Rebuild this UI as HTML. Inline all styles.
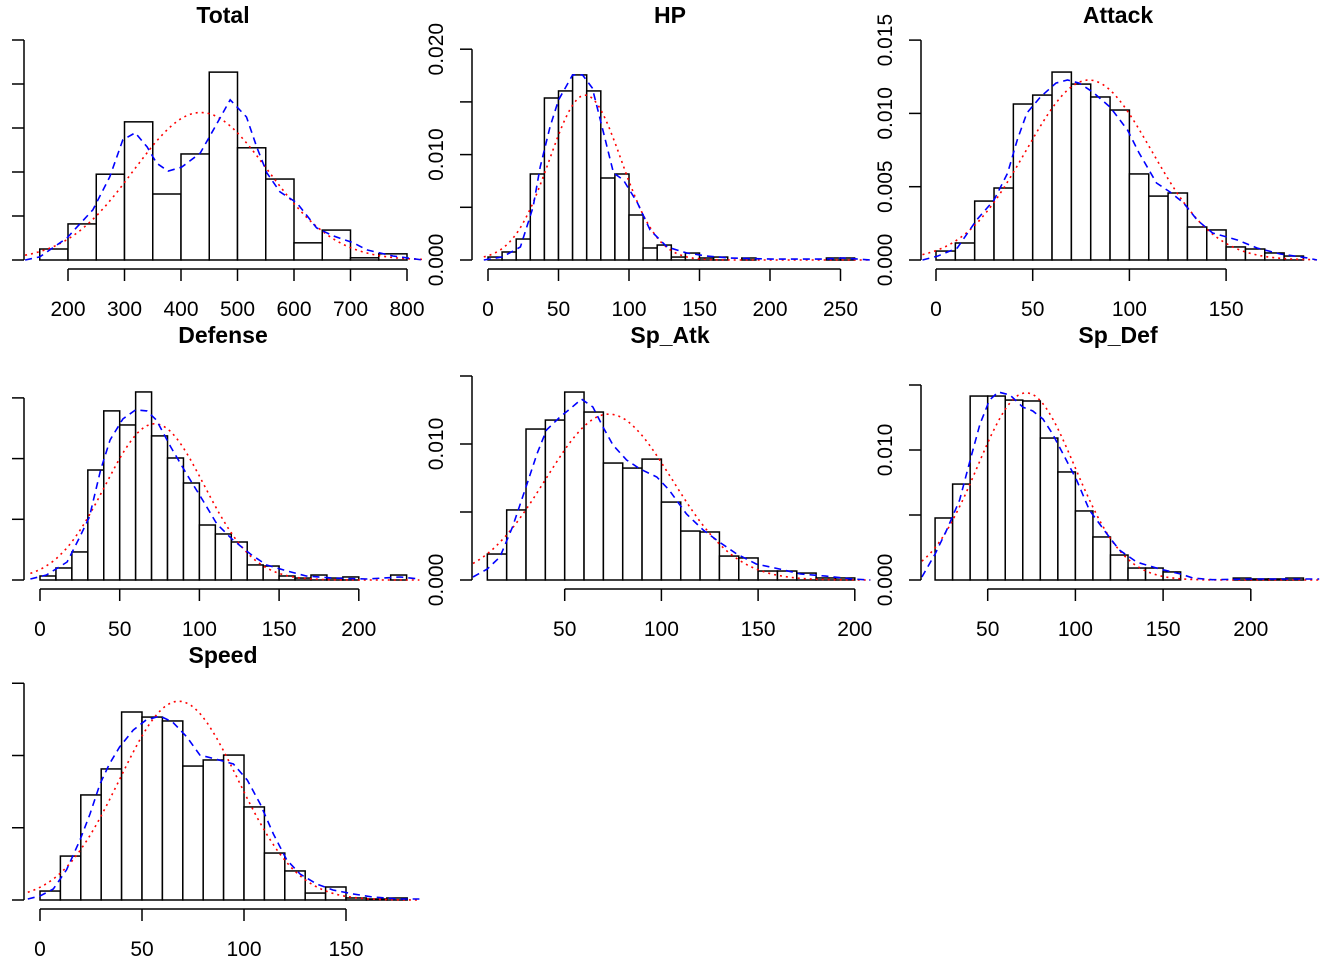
<!DOCTYPE html>
<html><head><meta charset="utf-8">
<style>
html,body{margin:0;padding:0;background:#fff;}
svg{display:block;font-family:"Liberation Sans",Arial,sans-serif;}
</style></head>
<body>
<svg id="chart" width="1344" height="960" viewBox="0 0 1344 960" xmlns="http://www.w3.org/2000/svg"></svg>
<script>
// Densities are given in units of 0.001 (density × 1000)
const totalBins = [0.25,0.82,1.95,3.14,1.5,2.41,4.27,2.55,1.84,0.39,0.68,0.05,0.14];
const totalKdeX = [124,150,198,244,274,297,319,340,357,377,401,434,457,487,516,534,552,575,605,640,669,705,729,775,828];
const totalKdeY = [0,0.07,0.5,1.14,1.89,2.73,2.89,2.57,2.2,2.02,2.11,2.43,2.95,3.64,3.25,2.57,1.98,1.55,1.3,0.73,0.55,0.39,0.23,0.09,0];
const totalNorm = [435,119];

const hpBins = [0.28,0.76,1.99,8.16,15.37,16.04,17.56,16.04,7.78,8.16,4.27,1.14,1.42,0.28,0.66,0.19,0.28,0,0.19,0,0,0,0,0,0.19,0.19];
const hpKdeX = [-3,10,23,32,37,44,50,60,67,74,82,89,96,106,115,127,141,155,171,202,238,252,271];
const hpKdeY = [0,0.28,1.23,5.03,8.83,12.62,15.18,17.56,17.56,16.32,12.05,8.26,7.59,5.41,2.85,1.23,0.66,0.38,0.19,0.09,0.09,0.19,0];
const hpNorm = [69,25.5];

const atkBins = [0.61,1.16,4.02,4.91,10.64,11.25,12.82,12.0,11.12,10.23,5.87,4.36,4.57,2.25,2.05,0.89,0.75,0.48,0.27];
const atkKdeX = [-7,1,11,21,30,37,42,47,54,62,68,74,81,90,99,105,114,121,128,135,143,156,166,178,192,197];
const atkKdeY = [0,0.27,0.82,2.73,4.09,5.93,8.18,10.03,11.12,12.07,12.28,12.07,11.46,10.43,8.87,7.3,5.25,4.64,3.89,2.73,1.84,1.36,0.82,0.41,0.14,0];
const atkNorm = [79,32.5];

const defBins = [0.33,0.99,2.31,9.06,13.93,12.77,15.49,11.87,10.05,7.99,4.53,3.79,3.13,1.24,1.15,0.33,0.16,0.41,0.16,0.25,0,0,0.41];
const defKdeX = [-6,4,17,25,31,38,44,52,60,67,73,82,92,102,111,121,132,142,155,167,184,205,226,238];
const defKdeY = [0.08,0.41,1.48,3.54,5.19,9.06,11.54,13.27,14.01,13.93,13.18,10.96,8.73,6.59,4.61,3.3,2.14,1.24,0.74,0.33,0.16,0.08,0.25,0.08];
const defNorm = [72,31];

const spaBins = [1.91,5.15,11.1,11.76,13.82,12.35,8.6,8.23,8.89,5.73,3.6,3.53,1.76,1.62,0.66,0.66,0.51,0.15,0.15];
const spaKdeX = [2.6,10,16.5,23,30.5,35.6,40.6,47.5,52.7,58.7,64.6,69.8,75,82,89,97.6,104,113,121.6,130,139,149,161,172,185,199,208];
const spaKdeY = [0.22,0.81,1.69,3.9,7.06,9.26,11.03,11.98,12.57,13.3,12.72,11.25,9.92,8.82,8.16,7.57,6.62,4.85,3.68,2.79,1.91,1.18,0.81,0.44,0.29,0.07,0];
const spaNorm = [72.8,32.7];

const spdBins = [4.77,7.38,14.15,14.15,13.84,13.77,10.92,8.31,5.31,3.31,1.92,0.92,0.92,0.62,0,0,0,0.15,0.08,0.08,0.15];
const spdKdeX = [12.5,20,26.6,34,40,45.6,51,56,62.7,70,75.7,81.5,87,93,100.7,108,118,125,135,148,160,167,178,198,217,239];
const spdKdeY = [0.23,2.0,3.85,6.15,9.23,12.0,13.84,14.46,14.23,13.3,13.0,12.38,11.23,9.69,7.69,5.38,3.54,2.31,1.38,0.85,0.46,0.15,0.02,0.08,0.08,0.08];
const spdNorm = [71.9,27.7];

const speedBins = [0.62,3.04,7.27,9.07,13.01,12.66,12.39,9.27,9.69,10.03,6.44,3.25,2.01,0.48,0.9,0.14,0.07,0.14];
const speedKdeX = [-6,0,6.5,13,19.6,24.5,29.4,34,39,45.7,52,58.8,65,72,78.4,86,94.8,101.6,108,114.4,121,127.5,135.6,143.6,153.4,163,176,186];
const speedKdeY = [0.07,0.28,0.76,2.08,4.15,5.95,8.03,9.41,10.59,11.76,12.46,12.73,12.32,11.28,10.03,9.76,9.41,8.3,6.64,4.57,2.77,1.8,1.11,0.69,0.42,0.21,0.07,0.07];
const speedNorm = [68,29];

const totalXTicks = [200,300,400,500,600,700,800];
const hpXTicks = [0,50,100,150,200,250];
const atkXTicks = [0,50,100,150];
const defXTicks = [0,50,100,150,200];
const spaXTicks = [50,100,150,200];
const spdXTicks = [50,100,150,200];
const speedXTicks = [0,50,100,150];

const panels = [
 {name:'Total',key:'total',bins:totalBins,start:150,w:50,kx:totalKdeX,ky:totalKdeY,norm:totalNorm,x0:68,v0:200,sx:0.565,base:260,sy:44,ax:24,yt:[0,1,2,3,4,5],yl:[],xt:totalXTicks,tx:223,lab:false},
 {name:'HP',key:'hp',bins:hpBins,start:0,w:10,kx:hpKdeX,ky:hpKdeY,norm:hpNorm,x0:488,v0:0,sx:1.41,base:260,sy:10.54,ax:472,yt:[0,5,10,15,20],yl:[0,10,20],xt:hpXTicks,tx:670},
 {name:'Attack',key:'attack',bins:atkBins,start:0,w:10,kx:atkKdeX,ky:atkKdeY,norm:atkNorm,x0:936,v0:0,sx:1.934,base:260,sy:14.66,ax:921,yt:[0,5,10,15],yl:[0,5,10,15],xt:atkXTicks,tx:1118},
 {name:'Defense',key:'defense',bins:defBins,start:0,w:10,kx:defKdeX,ky:defKdeY,norm:defNorm,x0:40,v0:0,sx:1.594,base:580,sy:12.14,ax:24,yt:[0,5,10,15],yl:[],xt:defXTicks,tx:223},
 {name:'Sp_Atk',key:'sp-atk',bins:spaBins,start:10,w:10,kx:spaKdeX,ky:spaKdeY,norm:spaNorm,x0:468,v0:0,sx:1.934,base:580,sy:13.6,ax:472,yt:[0,5,10,15],yl:[0,10],xt:spaXTicks,tx:670},
 {name:'Sp_Def',key:'sp-def',bins:spdBins,start:20,w:10,kx:spdKdeX,ky:spdKdeY,norm:spdNorm,x0:900,v0:0,sx:1.754,base:580,sy:13.0,ax:921,yt:[0,5,10,15],yl:[0,10],xt:spdXTicks,tx:1118},
 {name:'Speed',key:'speed',bins:speedBins,start:0,w:10,kx:speedKdeX,ky:speedKdeY,norm:speedNorm,x0:40,v0:0,sx:2.04,base:900,sy:14.45,ax:24,yt:[0,5,10,15],yl:[],xt:speedXTicks,tx:223}
];

const NS='http://www.w3.org/2000/svg';
const svg=document.getElementById('chart');
function mk(tag,attrs,parent){const e=document.createElementNS(NS,tag);for(const k in attrs)e.setAttribute(k,attrs[k]);parent.appendChild(e);return e;}

panels.forEach(p=>{
  const X=v=>p.x0+(v-p.v0)*p.sx;
  const Y=d=>p.base-d*p.sy;
  const g=mk('g',{},svg);
  
  
  const t=mk('text',{x:p.tx,y:p.base-237,'text-anchor':'middle','font-size':'23','font-weight':'bold',fill:'#000'},g);
  t.textContent=p.name;
  
  
  // bars
  p.bins.forEach((d,i)=>{
    const x1=X(p.start+i*p.w),x2=X(p.start+(i+1)*p.w);
    const r=mk('rect',{x:x1,y:Y(d),width:x2-x1,height:p.base-Y(d),fill:'#fff',stroke:'#000','stroke-width':1.5},g);
    
    
  });
  // normal curve
  const m=p.norm[0],s=p.norm[1];
  const lo=p.kx[0],hi=p.kx[p.kx.length-1];
  let pts=[];
  for(let k=0;k<=120;k++){const v=lo+(hi-lo)*k/120;const d=1000/(s*Math.sqrt(2*Math.PI))*Math.exp(-0.5*((v-m)/s)**2);pts.push(X(v).toFixed(1)+','+Y(d).toFixed(1));}
  const nl=mk('polyline',{points:pts.join(' '),fill:'none',stroke:'#f00','stroke-width':1.6,'stroke-dasharray':'2,4'},g);
  
  
  // kde curve
  const kp=p.kx.map((v,i)=>X(v).toFixed(1)+','+Y(p.ky[i]).toFixed(1)).join(' ');
  const kl=mk('polyline',{points:kp,fill:'none',stroke:'#00f','stroke-width':1.6,'stroke-dasharray':'7,5'},g);
  
  
  // y axis
  const ya=mk('g',{},g);
  
  
  mk('line',{x1:p.ax,y1:Y(p.yt[0]),x2:p.ax,y2:Y(p.yt[p.yt.length-1]),stroke:'#000','stroke-width':1.5},ya);
  p.yt.forEach(v=>{mk('line',{x1:p.ax-12,y1:Y(v),x2:p.ax,y2:Y(v),stroke:'#000','stroke-width':1.5},ya);});
  p.yl.forEach(v=>{
    const lx=p.ax-29,ly=Y(v);
    const tt=mk('text',{x:lx,y:ly,'text-anchor':'middle','font-size':'21',fill:'#000',transform:'rotate(-90 '+lx+' '+ly+')'},ya);
    tt.textContent=(v/1000).toFixed(3);
    
    
  });
  // x axis
  const xa=mk('g',{},g);
  
  
  const ay=p.base+9;
  mk('line',{x1:X(p.xt[0]),y1:ay,x2:X(p.xt[p.xt.length-1]),y2:ay,stroke:'#000','stroke-width':1.5},xa);
  p.xt.forEach(v=>{
    mk('line',{x1:X(v),y1:ay,x2:X(v),y2:ay+12,stroke:'#000','stroke-width':1.5},xa);
    const tt=mk('text',{x:X(v),y:p.base+56,'text-anchor':'middle','font-size':'21',fill:'#000'},xa);
    tt.textContent=String(v);
    
    
  });
});
</script>
</body></html>
